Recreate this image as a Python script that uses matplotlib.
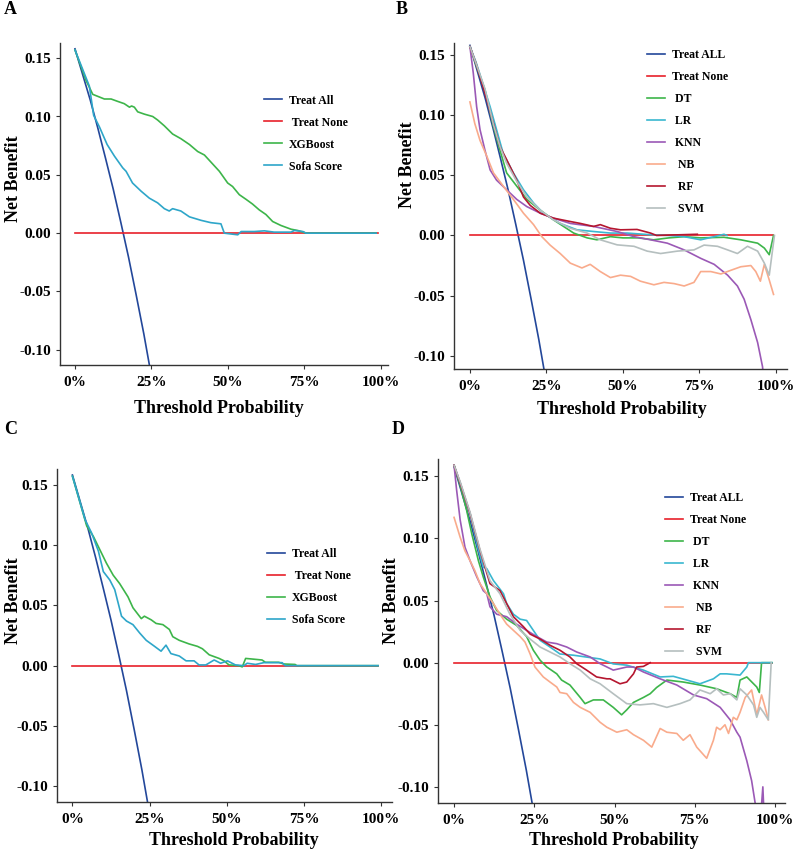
import matplotlib
matplotlib.use("Agg")
import matplotlib.pyplot as plt

plt.rcParams['font.family'] = ['Liberation Serif', 'DejaVu Serif']
plt.rcParams['font.weight'] = 'bold'

# colours
c_all = '#23479a'
c_none = '#e8202a'
c_green = '#3db54a'
c_cyan = '#2ea6c9'
c_lr = '#3ab7d0'
c_knn = '#9b59b6'
c_nb = '#f9ab8c'
c_rf = '#b5162f'
c_svm = '#b5bfbf'

# ---- shared reference lines ----
all_pt = [0, 0.025, 0.05, 0.075, 0.10, 0.125, 0.15, 0.175, 0.20, 0.225, 0.25]
all_nb = [0.158, 0.136, 0.114, 0.0897, 0.064, 0.0377, 0.009, -0.0206, -0.053, -0.0864, -0.123]
none_pt = [0, 0.99]
none_nb = [0, 0]

y_ticks = [-0.10, -0.05, 0.00, 0.05, 0.10, 0.15]
y_labels = ['-0.10', '-0.05', '0.00', '0.05', '0.10', '0.15']
x_ticks = [0, 0.25, 0.5, 0.75, 1.0]
x_labels = ['0%', '25%', '50%', '75%', '100%']

# ---- panel A ----
a_xgb_pt = [0, 0.036, 0.058, 0.096, 0.118, 0.139, 0.161, 0.178, 0.185, 0.194, 0.205, 0.227, 0.254,
            0.270, 0.292, 0.319, 0.346, 0.374, 0.401, 0.423, 0.444, 0.472, 0.499, 0.515, 0.537,
            0.559, 0.580, 0.602, 0.624, 0.646, 0.673, 0.706, 0.728, 0.749, 0.755, 0.984]
a_xgb_nb = [0.157, 0.131, 0.119, 0.115, 0.115, 0.113, 0.111, 0.108, 0.109, 0.108, 0.104, 0.102, 0.100,
            0.097, 0.092, 0.085, 0.081, 0.076, 0.070, 0.067, 0.061, 0.053, 0.043, 0.040, 0.033,
            0.029, 0.025, 0.020, 0.016, 0.010, 0.0066, 0.0034, 0.0023, 0.0006, 0, 0]
a_sofa_pt = [0, 0.047, 0.061, 0.080, 0.105, 0.129, 0.156, 0.167, 0.188, 0.216, 0.243, 0.270, 0.292,
             0.308, 0.319, 0.346, 0.374, 0.412, 0.444, 0.477, 0.488, 0.532, 0.543, 0.586, 0.619,
             0.651, 0.706, 0.717, 0.745, 0.755, 0.984]
a_sofa_nb = [0.157, 0.126, 0.101, 0.091, 0.076, 0.066, 0.056, 0.053, 0.043, 0.036, 0.030, 0.026, 0.021,
             0.019, 0.021, 0.019, 0.014, 0.011, 0.009, 0.008, 0, -0.0014, 0.0014, 0.0014, 0.002,
             0.0009, 0.0009, 0.0023, 0.0014, 0, 0]

# ---- panel C ----
c_xgb_pt = [0, 0.046, 0.068, 0.089, 0.110, 0.132, 0.153, 0.180, 0.196, 0.223, 0.233, 0.255, 0.271,
            0.293, 0.314, 0.325, 0.346, 0.378, 0.405, 0.421, 0.443, 0.475, 0.491, 0.507, 0.539,
            0.550, 0.561, 0.582, 0.614, 0.625, 0.668, 0.684, 0.721, 0.727, 0.99]
c_xgb_nb = [0.157, 0.116, 0.107, 0.096, 0.085, 0.075, 0.068, 0.057, 0.048, 0.039, 0.041, 0.038, 0.035,
            0.034, 0.030, 0.024, 0.021, 0.018, 0.016, 0.014, 0.009, 0.006, 0.004, 0.0006, 0,
            -0.001, 0.006, 0.0055, 0.0047, 0.0028, 0.0028, 0.0014, 0.001, 0, 0]
c_sofa_pt = [0, 0.041, 0.062, 0.084, 0.100, 0.121, 0.137, 0.148, 0.159, 0.175, 0.196, 0.218, 0.239,
             0.266, 0.287, 0.303, 0.319, 0.346, 0.368, 0.394, 0.410, 0.432, 0.459, 0.480, 0.502,
             0.528, 0.555, 0.566, 0.593, 0.620, 0.679, 0.689, 0.99]
c_sofa_nb = [0.157, 0.121, 0.110, 0.095, 0.078, 0.071, 0.063, 0.052, 0.041, 0.037, 0.034, 0.027, 0.021,
             0.016, 0.012, 0.017, 0.010, 0.008, 0.004, 0.004, 0.0006, 0.0006, 0.0047, 0.002, 0.004,
             0.0006, 0, 0.002, 0.001, 0.0025, 0.0025, 0, 0]

# ---- panel B ----
b_dt_pt = [0, 0.02, 0.049, 0.077, 0.098, 0.120, 0.153, 0.186, 0.230, 0.273, 0.306, 0.339, 0.383,
           0.415, 0.459, 0.50, 0.55, 0.60, 0.65, 0.70, 0.754, 0.83, 0.885, 0.94, 0.962, 0.978, 0.992]
b_dt_nb = [0.157, 0.142, 0.121, 0.0905, 0.071, 0.052, 0.041, 0.030, 0.021, 0.013, 0.0075, 0.002, -0.002,
           -0.0036, -0.001, -0.002, -0.002, -0.0036, -0.002, -0.001, -0.002, -0.0015, -0.0036, -0.0064,
           -0.0105, -0.016, 0.0]
b_lr_pt = [0, 0.02, 0.045, 0.066, 0.087, 0.109, 0.142, 0.175, 0.208, 0.240, 0.295, 0.350, 0.404,
           0.459, 0.514, 0.59, 0.65, 0.70, 0.754, 0.798, 0.83, 0.84]
b_lr_nb = [0.157, 0.144, 0.124, 0.107, 0.088, 0.068, 0.052, 0.038, 0.027, 0.0185, 0.010, 0.0047, 0.0033,
           0.002, 0.002, 0.0006, 0.0, -0.001, -0.0036, -0.001, 0.001, 0.0]
b_knn_pt = [0, 0.011, 0.022, 0.033, 0.049, 0.066, 0.087, 0.120, 0.153, 0.186, 0.230, 0.273, 0.328,
            0.404, 0.481, 0.536, 0.59, 0.645, 0.70, 0.754, 0.798, 0.842, 0.874, 0.896, 0.918, 0.940,
            0.956, 0.962]
b_knn_nb = [0.157, 0.135, 0.107, 0.088, 0.071, 0.0545, 0.046, 0.038, 0.030, 0.024, 0.0185, 0.0144, 0.010,
            0.0075, 0.0033, -0.001, -0.0036, -0.0064, -0.012, -0.019, -0.024, -0.033, -0.042, -0.053,
            -0.070, -0.089, -0.109, -0.125]
b_nb_pt = [0, 0.016, 0.033, 0.055, 0.077, 0.109, 0.142, 0.175, 0.208, 0.235, 0.262, 0.295, 0.328,
           0.366, 0.393, 0.426, 0.459, 0.492, 0.525, 0.557, 0.601, 0.634, 0.667, 0.70, 0.732, 0.754,
           0.787, 0.820, 0.852, 0.885, 0.918, 0.934, 0.949, 0.962, 0.978, 0.992]
b_nb_nb = [0.111, 0.093, 0.079, 0.066, 0.052, 0.041, 0.030, 0.0185, 0.009, -0.001, -0.008, -0.015, -0.023,
           -0.027, -0.024, -0.030, -0.035, -0.033, -0.034, -0.038, -0.041, -0.039, -0.040, -0.042, -0.039,
           -0.030, -0.030, -0.032, -0.029, -0.026, -0.025, -0.030, -0.038, -0.024, -0.037, -0.049]
b_rf_pt = [0, 0.02, 0.045, 0.077, 0.098, 0.120, 0.153, 0.175, 0.197, 0.230, 0.273, 0.328, 0.361,
           0.404, 0.426, 0.459, 0.492, 0.546, 0.59, 0.61, 0.743]
b_rf_nb = [0.157, 0.143, 0.122, 0.093, 0.074, 0.063, 0.046, 0.032, 0.025, 0.0185, 0.0144, 0.0116, 0.010,
           0.0075, 0.009, 0.006, 0.0047, 0.005, 0.002, 0.0, 0.001]
b_svm_pt = [0, 0.02, 0.049, 0.077, 0.098, 0.120, 0.153, 0.186, 0.230, 0.273, 0.328, 0.383, 0.426,
            0.481, 0.536, 0.579, 0.623, 0.678, 0.732, 0.765, 0.809, 0.842, 0.874, 0.907, 0.940, 0.962,
            0.978, 0.995]
b_svm_nb = [0.157, 0.143, 0.122, 0.092, 0.074, 0.060, 0.045, 0.032, 0.021, 0.013, 0.006, 0.002, -0.0036,
            -0.0078, -0.009, -0.013, -0.015, -0.013, -0.012, -0.008, -0.009, -0.012, -0.015, -0.009,
            -0.013, -0.023, -0.033, 0.0]

# ---- panel D ----
d_dt_pt = [0, 0.02, 0.039, 0.055, 0.076, 0.091, 0.112, 0.133, 0.164, 0.195, 0.226, 0.247, 0.268,
           0.289, 0.320, 0.335, 0.361, 0.393, 0.408, 0.434, 0.465, 0.496, 0.522, 0.538, 0.559, 0.590,
           0.611, 0.631, 0.663, 0.714, 0.766, 0.818, 0.860, 0.881, 0.891, 0.912, 0.943, 0.951, 0.958,
           0.99]
d_dt_nb = [0.159, 0.142, 0.123, 0.104, 0.082, 0.069, 0.053, 0.042, 0.035, 0.030, 0.021, 0.010, 0.002,
           -0.0035, -0.009, -0.014, -0.018, -0.028, -0.033, -0.030, -0.030, -0.036, -0.042, -0.038,
           -0.032, -0.028, -0.025, -0.020, -0.014, -0.0156, -0.018, -0.021, -0.025, -0.028, -0.014,
           -0.0115, -0.0196, -0.024, 0.0, 0.0]
d_lr_pt = [0, 0.02, 0.05, 0.075, 0.091, 0.102, 0.123, 0.154, 0.164, 0.185, 0.206, 0.226, 0.247, 0.268,
           0.299, 0.330, 0.372, 0.413, 0.455, 0.496, 0.538, 0.590, 0.642, 0.683, 0.725, 0.766, 0.808,
           0.829, 0.849, 0.891, 0.912, 0.917, 0.99]
d_lr_nb = [0.159, 0.144, 0.120, 0.092, 0.077, 0.0757, 0.066, 0.0555, 0.0475, 0.039, 0.035, 0.034, 0.026,
           0.018, 0.0126, 0.007, 0.006, 0.0045, 0.003, -0.001, -0.002, -0.006, -0.0115, -0.011, -0.014,
           -0.017, -0.013, -0.009, -0.009, -0.010, -0.0035, 0.0, 0.0]
d_knn_pt = [0, 0.008, 0.019, 0.034, 0.050, 0.071, 0.091, 0.102, 0.112, 0.133, 0.164, 0.195, 0.226,
            0.258, 0.289, 0.320, 0.351, 0.382, 0.424, 0.455, 0.496, 0.538, 0.559, 0.590, 0.642, 0.694,
            0.746, 0.787, 0.829, 0.860, 0.881, 0.891, 0.912, 0.927, 0.938, 0.955, 0.962, 0.966]
d_knn_nb = [0.159, 0.139, 0.115, 0.093, 0.082, 0.069, 0.058, 0.0555, 0.045, 0.039, 0.037, 0.031, 0.026,
            0.021, 0.0166, 0.0153, 0.0126, 0.0086, 0.0046, -0.0008, -0.006, -0.0035, -0.0035, -0.0075,
            -0.013, -0.018, -0.026, -0.029, -0.036, -0.046, -0.056, -0.060, -0.079, -0.095, -0.113,
            -0.125, -0.100, -0.125]
d_nb_pt = [0, 0.019, 0.034, 0.050, 0.065, 0.081, 0.102, 0.123, 0.143, 0.164, 0.185, 0.206, 0.221,
           0.237, 0.252, 0.278, 0.299, 0.320, 0.330, 0.351, 0.372, 0.393, 0.424, 0.455, 0.476, 0.507,
           0.538, 0.559, 0.590, 0.616, 0.642, 0.663, 0.694, 0.714, 0.735, 0.756, 0.787, 0.808, 0.818,
           0.829, 0.844, 0.855, 0.870, 0.881, 0.891, 0.907, 0.927, 0.943, 0.958, 0.969, 0.979]
d_nb_nb = [0.117, 0.101, 0.090, 0.082, 0.074, 0.0636, 0.0555, 0.0475, 0.039, 0.031, 0.026, 0.021, 0.0166,
           0.007, -0.0035, -0.0115, -0.0156, -0.0196, -0.024, -0.025, -0.032, -0.036, -0.040, -0.048,
           -0.052, -0.056, -0.054, -0.058, -0.0625, -0.068, -0.053, -0.056, -0.057, -0.0625, -0.058,
           -0.068, -0.077, -0.0625, -0.052, -0.054, -0.050, -0.057, -0.044, -0.046, -0.040, -0.028,
           -0.022, -0.042, -0.026, -0.036, -0.046]
d_rf_pt = [0, 0.02, 0.05, 0.08, 0.112, 0.143, 0.164, 0.185, 0.216, 0.237, 0.268, 0.299, 0.330, 0.361,
           0.382, 0.413, 0.444, 0.476, 0.486, 0.517, 0.538, 0.559, 0.569, 0.590, 0.611]
d_rf_nb = [0.159, 0.144, 0.120, 0.091, 0.0636, 0.058, 0.0475, 0.037, 0.029, 0.023, 0.019, 0.014, 0.010,
           0.0046, -0.0008, -0.006, -0.0115, -0.013, -0.013, -0.017, -0.0156, -0.009, -0.0035, -0.003, 0.0]
d_svm_pt = [0, 0.02, 0.05, 0.08, 0.112, 0.143, 0.174, 0.206, 0.237, 0.268, 0.299, 0.330, 0.361, 0.393,
            0.424, 0.455, 0.496, 0.538, 0.579, 0.621, 0.663, 0.704, 0.735, 0.766, 0.798, 0.818, 0.839,
            0.860, 0.881, 0.891, 0.912, 0.933, 0.943, 0.953, 0.964, 0.979, 0.988]
d_svm_nb = [0.159, 0.145, 0.121, 0.092, 0.066, 0.0555, 0.039, 0.026, 0.019, 0.0126, 0.0086, 0.0046,
            -0.0008, -0.006, -0.013, -0.017, -0.025, -0.033, -0.034, -0.033, -0.036, -0.033, -0.030,
            -0.022, -0.025, -0.021, -0.026, -0.025, -0.030, -0.021, -0.026, -0.034, -0.044, -0.036,
            -0.040, -0.046, 0.0]

W, H = 797, 852


def make_axes(fig, box, xlim, ylim, xlab_xy, ylab_xy):
    left, top, right, bottom = box
    ax = fig.add_axes([left / W, 1 - bottom / H, (right - left) / W, (bottom - top) / H])
    ax.set_xlim(*xlim)
    ax.set_ylim(*ylim)
    for s in ['top', 'right']:
        ax.spines[s].set_visible(False)
    for s in ['left', 'bottom']:
        ax.spines[s].set_color('#333333')
        ax.spines[s].set_linewidth(1.0)
    ax.set_xticks(x_ticks)
    ax.set_xticklabels(x_labels)
    ax.set_yticks(y_ticks)
    ax.set_yticklabels(y_labels)
    ax.tick_params(axis='both', labelsize=11, length=3, width=0.8, color='#333333')
    ax.tick_params(axis='x', pad=5)
    ax.set_xlabel('Threshold Probability', fontsize=13, fontweight='bold')
    ax.set_ylabel('Net Benefit', fontsize=13, fontweight='bold')
    ax.xaxis.set_label_coords(*xlab_xy)
    ax.yaxis.set_label_coords(*ylab_xy)
    ax.xaxis.label.set_va('center')
    ax.yaxis.label.set_va('center')
    return ax


def draw(ax, series, legend_xy):
    for pt, nb, col, lab in series:
        ax.plot(pt, nb, color=col, lw=1.2, label=lab)
    ax.legend(loc='upper left', bbox_to_anchor=legend_xy, frameon=False,
              handlelength=1.5, handletextpad=0.6, labelspacing=0.85, borderpad=0, borderaxespad=0,
              prop={'weight': 'bold', 'size': 8.5})


fig = plt.figure(figsize=(W / 100, H / 100), dpi=100)

axA = make_axes(fig, (60, 43, 388, 365), (-0.049, 1.023), (-0.113, 0.163),
                (0.485, -0.134), (-0.143, 0.578))
draw(axA, [(all_pt, all_nb, c_all, 'Treat All'),
           (none_pt, none_nb, c_none, ' Treat None'),
           (a_xgb_pt, a_xgb_nb, c_green, 'XGBoost'),
           (a_sofa_pt, a_sofa_nb, c_cyan, 'Sofa Score')], (0.622, 0.84))

axB = make_axes(fig, (454, 43, 787, 369), (-0.052, 1.036), (-0.111, 0.160),
                (0.505, -0.123), (-0.141, 0.626))
draw(axB, [(all_pt, all_nb, c_all, 'Treat ALL'),
           (none_pt, none_nb, c_none, 'Treat None'),
           (b_dt_pt, b_dt_nb, c_green, ' DT'),
           (b_lr_pt, b_lr_nb, c_lr, ' LR'),
           (b_knn_pt, b_knn_nb, c_knn, ' KNN'),
           (b_nb_pt, b_nb_nb, c_nb, '  NB'),
           (b_rf_pt, b_rf_nb, c_rf, '  RF'),
           (b_svm_pt, b_svm_nb, c_svm, '  SVM')], (0.58, 0.982))

axC = make_axes(fig, (57, 469, 392, 802), (-0.05, 1.035), (-0.113, 0.163),
                (0.528, -0.117), (-0.131, 0.604))
draw(axC, [(all_pt, all_nb, c_all, 'Treat All'),
           (none_pt, none_nb, c_none, ' Treat None'),
           (c_xgb_pt, c_xgb_nb, c_green, 'XGBoost'),
           (c_sofa_pt, c_sofa_nb, c_cyan, 'Sofa Score')], (0.627, 0.763))

axD = make_axes(fig, (438, 459, 785, 803), (-0.05, 1.031), (-0.113, 0.164),
                (0.507, -0.110), (-0.135, 0.587))
draw(axD, [(all_pt, all_nb, c_all, 'Treat ALL'),
           (none_pt, none_nb, c_none, 'Treat None'),
           (d_dt_pt, d_dt_nb, c_green, ' DT'),
           (d_lr_pt, d_lr_nb, c_lr, ' LR'),
           (d_knn_pt, d_knn_nb, c_knn, ' KNN'),
           (d_nb_pt, d_nb_nb, c_nb, '  NB'),
           (d_rf_pt, d_rf_nb, c_rf, '  RF'),
           (d_svm_pt, d_svm_nb, c_svm, '  SVM')], (0.654, 0.904))

for letter, x, y in [('A', 4, 10), ('B', 396, 10), ('C', 4, 430), ('D', 392, 430)]:
    fig.text(x / W, 1 - y / H, letter, fontsize=13, fontweight='bold', ha='left', va='center')

fig.savefig('out.png', dpi=100)
